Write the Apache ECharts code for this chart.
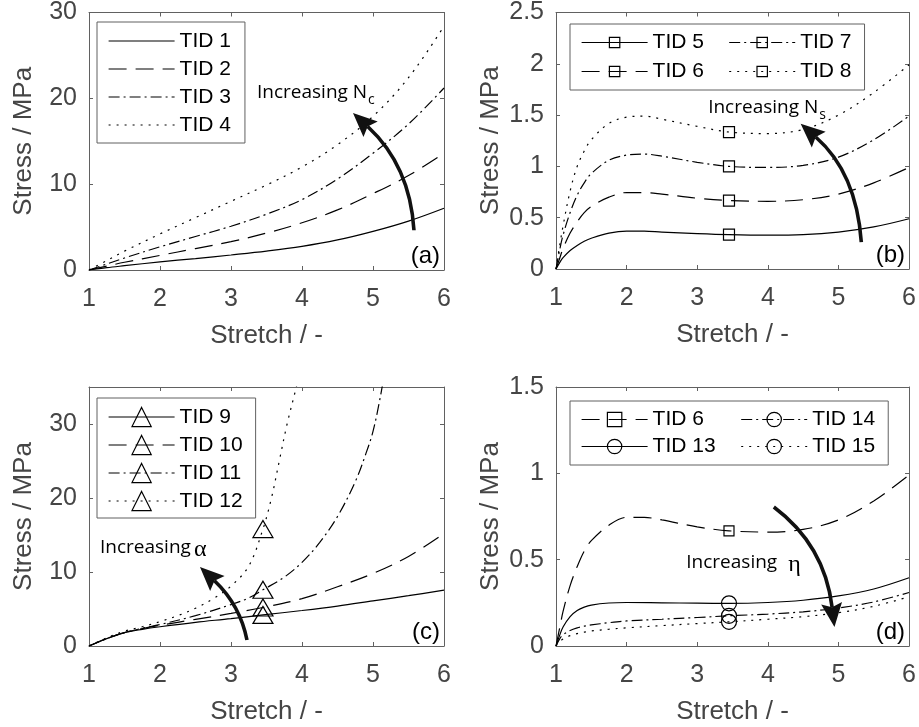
<!DOCTYPE html>
<html>
<head>
<meta charset="utf-8">
<script src="https://cdn.jsdelivr.net/npm/echarts@6/dist/echarts.min.js"></script>
<style>
  html, body { margin: 0; padding: 0; background: #fff; }
  #chart { width: 919px; height: 727px; }
</style>
</head>
<body>
<div id="chart"></div>
<script>
// ---- Stress-stretch curves, four panels ----
const MARK_STRETCH = 3.45;

// (a) effect of Nc
const stretchA = [1, 1.25, 1.5, 2, 2.5, 3, 3.5, 4, 4.5, 5, 5.5, 6];
const tid1 = [0, 0.27, 0.5, 0.95, 1.33, 1.75, 2.2, 2.75, 3.5, 4.5, 5.7, 7.2];
const tid2 = [0, 0.45, 0.9, 1.7, 2.5, 3.3, 4.3, 5.5, 7.0, 8.9, 11.0, 13.6];
const tid3 = [0, 0.7, 1.4, 2.7, 3.9, 5.1, 6.5, 8.2, 10.6, 13.6, 17.0, 21.2];
const tid4 = [0, 1.1, 2.2, 4.2, 6.1, 8.0, 9.9, 12.0, 14.6, 17.9, 22.4, 28.4];

// (b) effect of Ns
const stretchB = [1, 1.05, 1.1, 1.2, 1.3, 1.4, 1.5, 1.75, 2, 2.25, 2.5, 3, 3.45, 4, 4.5, 5, 5.5, 6];
const tid5 = [0, 0.06, 0.11, 0.18, 0.23, 0.27, 0.30, 0.35, 0.37, 0.37, 0.36, 0.345, 0.335, 0.33, 0.335, 0.36, 0.41, 0.49];
const tid6 = [0, 0.1, 0.2, 0.35, 0.46, 0.55, 0.61, 0.70, 0.745, 0.745, 0.73, 0.69, 0.667, 0.66, 0.675, 0.73, 0.84, 0.99];
const tid7 = [0, 0.18, 0.33, 0.55, 0.72, 0.84, 0.93, 1.06, 1.11, 1.12, 1.10, 1.04, 1.0, 0.99, 1.01, 1.09, 1.26, 1.49];
const tid8 = [0, 0.22, 0.42, 0.76, 1.0, 1.15, 1.26, 1.42, 1.48, 1.49, 1.46, 1.39, 1.335, 1.32, 1.36, 1.5, 1.72, 1.99];

// (c) effect of alpha
const stretchC = [1, 1.25, 1.5, 1.75, 2, 2.5, 3, 3.45, 4, 4.5, 5, 5.5, 6];
const tid9 = [0, 1.0, 1.8, 2.25, 2.6, 3.2, 3.7, 4.2, 4.8, 5.4, 6.1, 6.8, 7.55];
const tid10 = [0, 1.0, 1.8, 2.35, 2.8, 3.6, 4.4, 5.2, 6.4, 8.0, 9.8, 12.1, 15.2];
const stretch11 = [1, 1.25, 1.5, 1.75, 2, 2.5, 3, 3.25, 3.45, 3.75, 4, 4.25, 4.5, 4.75, 4.9, 5, 5.1, 5.2];
const tid11 = [0, 1.0, 1.8, 2.4, 2.9, 4.1, 5.6, 6.5, 7.6, 9.3, 11.3, 14.0, 17.5, 22.2, 26.0, 29.0, 33.5, 39];
const stretch12 = [1, 1.25, 1.5, 1.75, 2, 2.25, 2.5, 2.75, 3, 3.25, 3.45, 3.57, 3.68, 3.79, 3.92, 4.0];
const tid12 = [0, 1.1, 2.0, 2.6, 3.3, 4.1, 5.1, 6.4, 8.1, 10.8, 15.8, 20, 25, 30, 35, 38.5];

// (d) effect of eta
const stretchD = [1, 1.05, 1.1, 1.2, 1.3, 1.4, 1.5, 1.75, 2, 2.5, 3, 3.45, 4, 4.5, 5, 5.5, 6];
const tid13 = [0, 0.06, 0.11, 0.17, 0.205, 0.225, 0.237, 0.249, 0.252, 0.25, 0.248, 0.247, 0.252, 0.265, 0.29, 0.33, 0.395];
const tid14 = [0, 0.04, 0.065, 0.09, 0.105, 0.115, 0.122, 0.135, 0.145, 0.155, 0.165, 0.175, 0.185, 0.198, 0.22, 0.255, 0.31];
const tid15 = [0, 0.025, 0.04, 0.06, 0.072, 0.08, 0.087, 0.097, 0.105, 0.118, 0.13, 0.14, 0.155, 0.17, 0.193, 0.23, 0.285];

// axis ranges per panel: [yMax, yInterval]
const yRanges = [[30, 10], [2.5, 0.5], [35, 10], [1.5, 0.5]];
const panelTags = ['(a)', '(b)', '(c)', '(d)'];

const FONT = '"Liberation Sans", Arial, Helvetica, sans-serif';
const NOTE_FONT = '"Open Sans", "Noto Sans", sans-serif';
const GREEK_FONT = '"Liberation Serif", "DejaVu Serif", serif';
const AXIS_COLOR = '#616161';
const TEXT_COLOR = '#454545';

const SOLID = 'solid';
const LONG_DASH = [18, 9];
const DASH_DOT = [11, 4, 2, 4];
const DOTTED = [2, 6];

const grids = [
  { left: 89, top: 11, width: 355, height: 259 },
  { left: 556, top: 11, width: 355, height: 258 },
  { left: 89, top: 387, width: 355, height: 259 },
  { left: 556, top: 387, width: 355, height: 259 }
];

const xAxes = [], yAxes = [];
grids.forEach((g, i) => {
  const line = { show: true, onZero: false, lineStyle: { color: AXIS_COLOR, width: 1 } };
  const tick = { show: true, inside: true, length: 4, lineStyle: { color: AXIS_COLOR, width: 1 } };
  const [yMax, yInt] = yRanges[i];
  xAxes.push({
    gridIndex: i, type: 'value', position: 'bottom', min: 1, max: 6, interval: 1,
    axisLine: line, axisTick: tick, splitLine: { show: false },
    axisLabel: { margin: 17, color: TEXT_COLOR, fontSize: 25, fontFamily: FONT },
    name: 'Stretch / -', nameLocation: 'middle', nameGap: 53,
    nameTextStyle: { color: TEXT_COLOR, fontSize: 26, fontFamily: FONT }
  });
  xAxes.push({
    gridIndex: i, type: 'value', position: 'top', min: 1, max: 6, interval: 1,
    axisLine: line, axisTick: tick, splitLine: { show: false }, axisLabel: { show: false }
  });
  yAxes.push({
    gridIndex: i, type: 'value', position: 'left', min: 0, max: yMax, interval: yInt,
    axisLine: line, axisTick: tick, splitLine: { show: false },
    axisLabel: { margin: 12, color: TEXT_COLOR, fontSize: 25, fontFamily: FONT, showMaxLabel: i !== 2 },
    name: 'Stress / MPa', nameLocation: 'middle', nameGap: 52,
    nameTextStyle: { color: TEXT_COLOR, fontSize: 26, fontFamily: FONT }
  });
  yAxes.push({
    gridIndex: i, type: 'value', position: 'right', min: 0, max: yMax, interval: yInt,
    axisLine: line, axisTick: tick, splitLine: { show: false }, axisLabel: { show: false }
  });
});

function curve(name, panel, xs, ys, dash, symbol, size) {
  return {
    type: 'line', name: name,
    xAxisIndex: panel * 2, yAxisIndex: panel * 2,
    data: xs.map((x, k) => [x, ys[k]]),
    smooth: 0.35,
    symbol: symbol || 'none',
    showSymbol: !!symbol,
    symbolSize: symbol ? (v => (v[0] === MARK_STRETCH ? size : 0)) : 0,
    itemStyle: { color: 'transparent', borderColor: '#000', borderWidth: 1.2 },
    lineStyle: { color: '#000', width: 1.2, type: dash },
    emphasis: { disabled: true },
    silent: true
  };
}

const series = [
  curve('TID 1', 0, stretchA, tid1, SOLID),
  curve('TID 2', 0, stretchA, tid2, LONG_DASH),
  curve('TID 3', 0, stretchA, tid3, DASH_DOT),
  curve('TID 4', 0, stretchA, tid4, DOTTED),

  curve('TID 5', 1, stretchB, tid5, SOLID, 'rect', 11),
  curve('TID 6', 1, stretchB, tid6, LONG_DASH, 'rect', 11),
  curve('TID 7', 1, stretchB, tid7, DASH_DOT, 'rect', 11),
  curve('TID 8', 1, stretchB, tid8, DOTTED, 'rect', 11),

  curve('TID 9', 2, stretchC, tid9, SOLID, 'triangle', [20, 17]),
  curve('TID 10', 2, stretchC, tid10, LONG_DASH, 'triangle', [20, 17]),
  curve('TID 11', 2, stretch11, tid11, DASH_DOT, 'triangle', [20, 17]),
  curve('TID 12', 2, stretch12, tid12, DOTTED, 'triangle', [20, 17]),

  curve('TID 6', 3, stretchB, tid6, LONG_DASH, 'rect', 10),
  curve('TID 13', 3, stretchD, tid13, SOLID, 'circle', 15),
  curve('TID 14', 3, stretchD, tid14, DASH_DOT, 'circle', 15),
  curve('TID 15', 3, stretchD, tid15, DOTTED, 'circle', 15)
];

const legendBase = {
  selectedMode: false,
  backgroundColor: '#fff',
  borderColor: AXIS_COLOR,
  borderWidth: 1,
  itemGap: 0,
  itemWidth: 66,
  textStyle: { color: '#000', fontSize: 21, fontFamily: FONT },
  lineStyle: { width: 1.2 },
  itemStyle: { borderWidth: 1.2 }
};

const legends = [
  Object.assign({}, legendBase, {
    data: ['TID 1', 'TID 2', 'TID 3', 'TID 4'],
    orient: 'vertical', left: 97, top: 22, padding: [5, 14, 4, 11],
    itemHeight: 14,
    textStyle: Object.assign({}, legendBase.textStyle, { lineHeight: 28 }),
    itemStyle: { opacity: 0 }
  }),
  Object.assign({}, legendBase, {
    data: [
      { name: 'TID 5', textStyle: { width: 76 } }, 'TID 7',
      { name: 'TID 6', textStyle: { width: 76 } }, 'TID 8'
    ],
    orient: 'horizontal', left: 570, top: 24, width: 300, padding: [4, 13, 4, 11],
    itemHeight: 13,
    textStyle: Object.assign({}, legendBase.textStyle, { lineHeight: 29 })
  }),
  Object.assign({}, legendBase, {
    data: ['TID 9', 'TID 10', 'TID 11', 'TID 12'],
    orient: 'vertical', left: 97, top: 398, padding: [5, 13, 3, 11],
    itemHeight: 24,
    textStyle: Object.assign({}, legendBase.textStyle, { lineHeight: 28 })
  }),
  Object.assign({}, legendBase, {
    data: [
      { name: 'TID 6', textStyle: { width: 88 } }, 'TID 14',
      { name: 'TID 13', textStyle: { width: 88 } }, 'TID 15'
    ],
    orient: 'horizontal', left: 570, top: 401, width: 320, padding: [5, 13, 5, 11],
    itemHeight: 18,
    textStyle: Object.assign({}, legendBase.textStyle, { lineHeight: 27 })
  })
];

const chart = echarts.init(document.getElementById('chart'), null, { renderer: 'canvas' });
chart.setOption({
  animation: false,
  backgroundColor: '#fff',
  grid: grids.map(g => Object.assign({ containLabel: false }, g)),
  xAxis: xAxes,
  yAxis: yAxes,
  legend: legends,
  series: series
});

// ---- annotations: curved arrows, notes, panel tags (anchored in data units) ----
// [panel, tail, control, tip]
const arrows = [
  [0, [5.577, 4.63], [5.521, 12.16], [4.718, 18.3]],
  [1, [5.324, 0.262], [5.254, 0.94], [4.465, 1.415]],
  [2, [3.225, 0.81], [3.127, 5.54], [2.563, 10.68]],
  [3, [4.085, 0.805], [4.803, 0.585], [4.944, 0.11]]
];
// [panel, anchor (left, text middle), main text, subscript, trailing symbol, symbol gap]
const notes = [
  [0, [3.366, 20.68], 'Increasing N', 'c', '', 0],
  [1, [3.155, 1.575], 'Increasing N', 's', '', 0],
  [2, [1.155, 13.31], 'Increasing', '', '\u03b1', 3],
  [3, [2.845, 0.4836], 'Increasing', '', '\u03b7', 11]
];

const NOTE_SIZE = 19;
const measureCtx = document.createElement('canvas').getContext('2d');
measureCtx.font = NOTE_SIZE + 'px ' + NOTE_FONT;

const px = (panel, p) => chart.convertToPixel({ gridIndex: panel }, p);
const graphics = [];

arrows.forEach(([panel, tail, ctrl, tip]) => {
  const t0 = px(panel, tail), c = px(panel, ctrl), t1 = px(panel, tip);
  const dx = t1[0] - c[0], dy = t1[1] - c[1];
  const len = Math.hypot(dx, dy);
  const ux = dx / len, uy = dy / len, nx = -uy, ny = ux;
  const L = 24, W = 21;
  const bx = t1[0] - ux * L, by = t1[1] - uy * L;
  graphics.push({
    type: 'bezierCurve', silent: true, z: 50,
    shape: { x1: t0[0], y1: t0[1], x2: bx + ux * 4, y2: by + uy * 4, cpx1: c[0], cpy1: c[1] },
    style: { stroke: '#111', lineWidth: 3.6, fill: null }
  });
  graphics.push({
    type: 'polygon', silent: true, z: 51,
    shape: { points: [
      [t1[0], t1[1]],
      [bx + nx * W / 2, by + ny * W / 2],
      [bx + ux * 4, by + uy * 4],
      [bx - nx * W / 2, by - ny * W / 2]
    ] },
    style: { fill: '#111' }
  });
});

notes.forEach(([panel, anchor, main, sub, sym, gap]) => {
  const p = px(panel, anchor);
  const w = measureCtx.measureText(main).width;
  graphics.push({
    type: 'text', silent: true, z: 52, x: p[0], y: p[1],
    style: { text: main, fill: '#000', fontSize: NOTE_SIZE, fontFamily: NOTE_FONT, align: 'left', verticalAlign: 'middle' }
  });
  if (sub) {
    graphics.push({
      type: 'text', silent: true, z: 52, x: p[0] + w + 1, y: p[1] + 8,
      style: { text: sub, fill: '#000', fontSize: 14, fontFamily: NOTE_FONT, align: 'left', verticalAlign: 'middle' }
    });
  }
  if (sym) {
    graphics.push({
      type: 'text', silent: true, z: 52, x: p[0] + w + gap, y: p[1] + 2,
      style: { text: sym, fill: '#000', fontSize: 24, fontFamily: GREEK_FONT, align: 'left', verticalAlign: 'middle' }
    });
  }
});

panelTags.forEach((tag, i) => {
  const corner = px(i, [6, 0]);
  graphics.push({
    type: 'text', silent: true, z: 52, x: corner[0] - 4, y: corner[1] - 14,
    style: { text: tag, fill: '#000', fontSize: 24, fontFamily: FONT, align: 'right', verticalAlign: 'middle' }
  });
});

chart.setOption({ graphic: graphics });
</script>
</body>
</html>
